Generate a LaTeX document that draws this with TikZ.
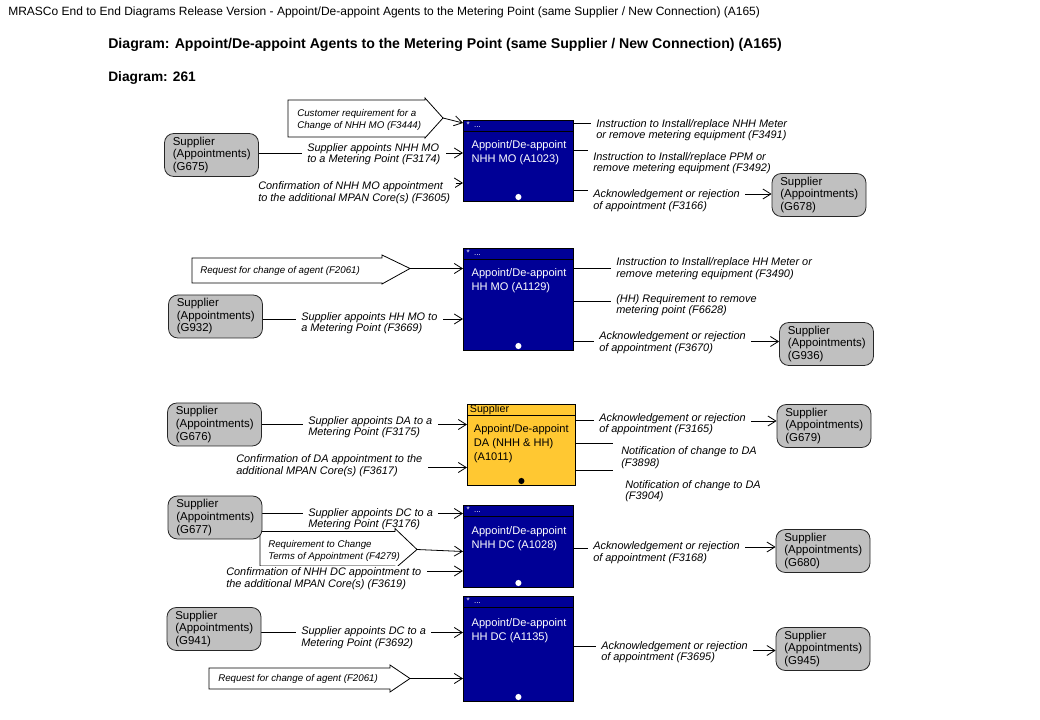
\documentclass[tikz,border=0pt]{standalone}
\usepackage{fontspec}
\setmainfont{Liberation Sans}
\usetikzlibrary{arrows.meta}
\definecolor{boxblue}{RGB}{0,0,150}
\definecolor{boxyellow}{RGB}{255,200,50}
\definecolor{supgray}{RGB}{192,192,192}
\pgfdeclarelayer{bg}
\pgfsetlayers{bg,main}
\tikzset{
  wire/.style={line width=0.6pt},
  arr/.style={wire,-{Straight Barb[length=6pt,width=7.5pt]}},
  sup/.style={draw=black!85, line width=0.6pt, fill=supgray, rounded corners=7pt,
    minimum width=70.5pt, minimum height=32.25pt, text width=58pt, align=left,
    inner sep=2pt, font=\fontsize{8.6}{9.4}\selectfont},
  proc/.style={draw=black, line width=0.6pt, fill=boxblue, minimum width=82.5pt,
    anchor=north west, inner sep=0pt},
  yproc/.style={proc, fill=boxyellow, minimum width=81pt},
  hdr/.style={text=white, anchor=west, inner sep=0pt, font=\fontsize{6}{6}\selectfont},
  btxt/.style={text=white, anchor=north west, inner sep=0pt, align=left,
    font=\fontsize{8.3}{10}\selectfont},
  lbl/.style={fill=white, inner xsep=4pt, inner ysep=1.5pt, xshift=-2.5pt, align=left, anchor=west,
    font=\fontsize{8.2}{8.6}\selectfont\itshape},
  blk/.style={inner sep=0pt, align=left, anchor=west,
    font=\fontsize{7.3}{8.6}\selectfont\itshape},
  blkarrow/.style={wire},
  ttl/.style={anchor=west, inner sep=0pt},
}
\begin{document}
\begin{tikzpicture}[x=0.75pt,y=-0.75pt]
\begin{pgfonlayer}{bg}
\fill[white] (0,0) rectangle (1040,720);
\end{pgfonlayer}
\path[use as bounding box] (0,0) rectangle (1040,720);

% titles
\node[ttl, font=\fontsize{9}{10}\selectfont] (t0) at (8,12) {MRASCo End to End Diagrams Release Version - Appoint/De-appoint Agents to the Metering Point (same Supplier / New Connection) (A165)};
\node[ttl, font=\fontsize{10.6}{12}\selectfont\bfseries] (t1) at (108,45) {Diagram: Appoint/De-appoint Agents to the Metering Point (same Supplier / New Connection) (A165)};
\node[ttl, font=\fontsize{10.3}{12}\selectfont\bfseries] (t2) at (108,78) {Diagram: 261};

% ---------------- process boxes
\node[proc, minimum height=60.75pt] (b1) at (463,120) {};
\node[proc, minimum height=76.5pt] (b2) at (463,248) {};
\node[yproc, minimum height=60.75pt] (b3) at (467,404) {};
\node[proc, minimum height=61.5pt] (b4) at (463,505) {};
\node[proc, minimum height=78.75pt] (b5) at (463,596) {};

\foreach \b in {b1,b2,b4,b5}{
  \draw[wire] ([yshift=-8.25pt]\b.north west) -- ([yshift=-8.25pt]\b.north east);
  \node[hdr] at ([xshift=2.5pt,yshift=-3.6pt]\b.north west) {*~~...};
  \fill[white] ([yshift=3.6pt]\b.south) circle (2.3pt);
}
\draw[wire] ([yshift=-8.25pt]b3.north west) -- ([yshift=-8.25pt]b3.north east);
\node[hdr, text=black, font=\fontsize{8}{8}\selectfont] at ([xshift=2pt,yshift=-4.5pt]b3.north west) {Supplier};
\fill[black] ([yshift=3.6pt]b3.south) circle (2.3pt);

\node[btxt] (b1t) at ([xshift=6.3pt,yshift=-15.5pt]b1.north west) {Appoint/De-appoint\\NHH MO (A1023)};
\node[btxt] (b2t) at ([xshift=6.3pt,yshift=-15.5pt]b2.north west) {Appoint/De-appoint\\HH MO (A1129)};
\node[btxt, text=black, font=\fontsize{8.3}{10.5}\selectfont] (b3t) at ([xshift=5pt,yshift=-15.5pt]b3.north west) {Appoint/De-appoint\\DA (NHH \& HH)\\(A1011)};
\node[btxt] (b4t) at ([xshift=6.3pt,yshift=-16.2pt]b4.north west) {Appoint/De-appoint\\NHH DC (A1028)};
\node[btxt] (b5t) at ([xshift=6.3pt,yshift=-17pt]b5.north west) {Appoint/De-appoint\\HH DC (A1135)};

% ---------------- block arrows
\draw[blkarrow] (288,100) -- (425,100) -- (425,98) -- (443,118) -- (425,138) -- (425,137) -- (288,137) -- cycle;
\coordinate (tip1) at (443,118);
\node[blk] (k1) at (297,120) {Customer requirement for a\\Change of NHH MO (F3444)};

\draw[blkarrow] (192,258) -- (382,258) -- (382,255) -- (410,268.5) -- (382,284) -- (382,283) -- (192,283) -- cycle;
\coordinate (tip2) at (410,268.5);
\node[blk] (k2) at (200,271) {Request for change of agent (F2061)};

\draw[blkarrow] (260,531.5) -- (395,531.5) -- (395,528.5) -- (417,549.5) -- (395,568.5) -- (395,566) -- (260,566) -- cycle;
\coordinate (tip4) at (417,549.5);
\node[blk] (k4) at (268,551) {Requirement to Change\\Terms of Appointment (F4279)};

\draw[blkarrow] (209,668) -- (390,668) -- (390,665) -- (410,678.5) -- (390,692) -- (390,689) -- (209,689) -- cycle;
\coordinate (tip5) at (410,678.5);
\node[blk] (k5) at (218,679) {Request for change of agent (F2061)};

% ---------------- labels
% section 1
\node[lbl] (l1a) at (305,154) {Supplier appoints NHH MO\\to a Metering Point (F3174)};
\node[lbl] (l1b) at (256,192.5) {Confirmation of NHH MO appointment\\to the additional MPAN Core(s) (F3605)};
\node[lbl] (o1a) at (594,130) {Instruction to Install/replace NHH Meter\\or remove metering equipment (F3491)};
\node[lbl] (o1b) at (591,163) {Instruction to Install/replace PPM or\\remove metering equipment (F3492)};
\node[lbl] (o1c) at (591,200.5) {Acknowledgement or rejection\\of appointment (F3166)};
% section 2
\node[lbl] (l2a) at (299,323) {Supplier appoints HH MO to\\a Metering Point (F3669)};
\node[lbl] (o2a) at (614,268.5) {Instruction to Install/replace HH Meter or\\remove metering equipment (F3490)};
\node[lbl] (o2b) at (614,305) {(HH) Requirement to remove\\metering point (F6628)};
\node[lbl] (o2c) at (597,342.5) {Acknowledgement or rejection\\of appointment (F3670)};
% section 3
\node[lbl] (l3a) at (306,427) {Supplier appoints DA to a\\Metering Point (F3175)};
\node[lbl] (l3b) at (234,465.5) {Confirmation of DA appointment to the\\additional MPAN Core(s) (F3617)};
\node[lbl] (o3a) at (597,424) {Acknowledgement or rejection\\of appointment (F3165)};
\node[lbl] (o3b) at (619,457.5) {Notification of change to DA\\(F3898)};
\node[lbl] (o3c) at (623,491) {Notification of change to DA\\(F3904)};
% section 4
\node[lbl, fill=none] (l4a) at (306,519) {Supplier appoints DC to a\\Metering Point (F3176)};
\node[lbl] (l4c) at (224,578.5) {Confirmation of NHH DC appointment to\\the additional MPAN Core(s) (F3619)};
\node[lbl] (o4) at (591,552.5) {Acknowledgement or rejection\\of appointment (F3168)};
% section 5
\node[lbl] (l5a) at (299,637.5) {Supplier appoints DC to a\\Metering Point (F3692)};
\node[lbl] (o5) at (599,652) {Acknowledgement or rejection\\of appointment (F3695)};

% ---------------- supplier boxes (on top of label masks)
\node[sup] (g675) at (211.5,155) {Supplier\\(Appointments)\\(G675)};
\node[sup] (g678) at (819,195) {Supplier\\(Appointments)\\(G678)};
\node[sup] (g932) at (215.5,316.5) {Supplier\\(Appointments)\\(G932)};
\node[sup] (g936) at (826.5,344) {Supplier\\(Appointments)\\(G936)};
\node[sup] (g676) at (214.5,424.5) {Supplier\\(Appointments)\\(G676)};
\node[sup] (g679) at (824,426) {Supplier\\(Appointments)\\(G679)};
\node[sup] (g677) at (215,517.5) {Supplier\\(Appointments)\\(G677)};
\node[sup] (g680) at (823,551) {Supplier\\(Appointments)\\(G680)};
\node[sup] (g941) at (214,629) {Supplier\\(Appointments)\\(G941)};
\node[sup] (g945) at (823,649) {Supplier\\(Appointments)\\(G945)};

% ---------------- connectors (behind labels)
\begin{pgfonlayer}{bg}
% section 1
\draw[arr] (g675.east |- 0,153) -- (b1.west |- 0,153);
\draw[arr] (l1b.east |- 0,183) -- (b1.west |- 0,183);
\draw[arr] (tip1) -- (b1.west |- 0,123);
\draw[wire] (b1.east |- 0,123) -- (o1a.west |- 0,123);
\draw[wire] (b1.east |- 0,150) -- (o1b.west |- 0,150);
\draw[wire] (b1.east |- 0,190) -- (o1c.west |- 0,190);
\draw[arr] ([xshift=-3pt]o1c.east |- 0,194) -- (g678.west |- 0,194);
% section 2
\draw[arr] (tip2) -- (b2.west |- tip2);
\draw[arr] (g932.east |- 0,319) -- (b2.west |- 0,319);
\draw[wire] (b2.east |- 0,268.5) -- (o2a.west |- 0,268.5);
\draw[wire] (b2.east |- 0,301.5) -- (o2b.west |- 0,301.5);
\draw[wire] (b2.east |- 0,341.5) -- (o2c.west |- 0,341.5);
\draw[arr] ([xshift=-3pt]o2c.east |- 0,341.5) -- (g936.west |- 0,341.5);
% section 3
\draw[arr] (g676.east |- 0,424.5) -- (b3.west |- 0,424.5);
\draw[arr] (l3b.east |- 0,467.5) -- (b3.west |- 0,467.5);
\draw[wire] (b3.east |- 0,420.5) -- (o3a.west |- 0,420.5);
\draw[arr] ([xshift=-3pt]o3a.east |- 0,421) -- (g679.west |- 0,421);
\draw[wire] (b3.east |- 0,443.5) -- ([xshift=-2pt]o3b.west |- 0,443.5);
\draw[wire] (b3.east |- 0,470.5) -- ([xshift=-2pt]o3b.west |- 0,470.5);
% section 4
\draw[arr] (g677.east |- 0,513.5) -- (b4.west |- 0,513.5);
\draw[arr] (tip4) -- (b4.west |- 0,551.5);
\draw[arr] (l4c.east |- 0,571) -- (b4.west |- 0,571);
\draw[wire] (b4.east |- 0,548.5) -- (o4.west |- 0,548.5);
\draw[arr] ([xshift=-3pt]o4.east |- 0,547) -- (g680.west |- 0,547);
% section 5
\draw[arr] (g941.east |- 0,632.5) -- (b5.west |- 0,632.5);
\draw[arr] (tip5) -- (b5.west |- tip5);
\draw[wire] (b5.east |- 0,646) -- (o5.west |- 0,646);
\draw[arr] ([xshift=-3pt]o5.east |- 0,650.5) -- (g945.west |- 0,650.5);
% white mask for label l4a over the supplier connector (arrow head lines stay visible)
\fill[white] (l4a.north west) rectangle (l4a.south east);
\end{pgfonlayer}
\end{tikzpicture}
\end{document}
